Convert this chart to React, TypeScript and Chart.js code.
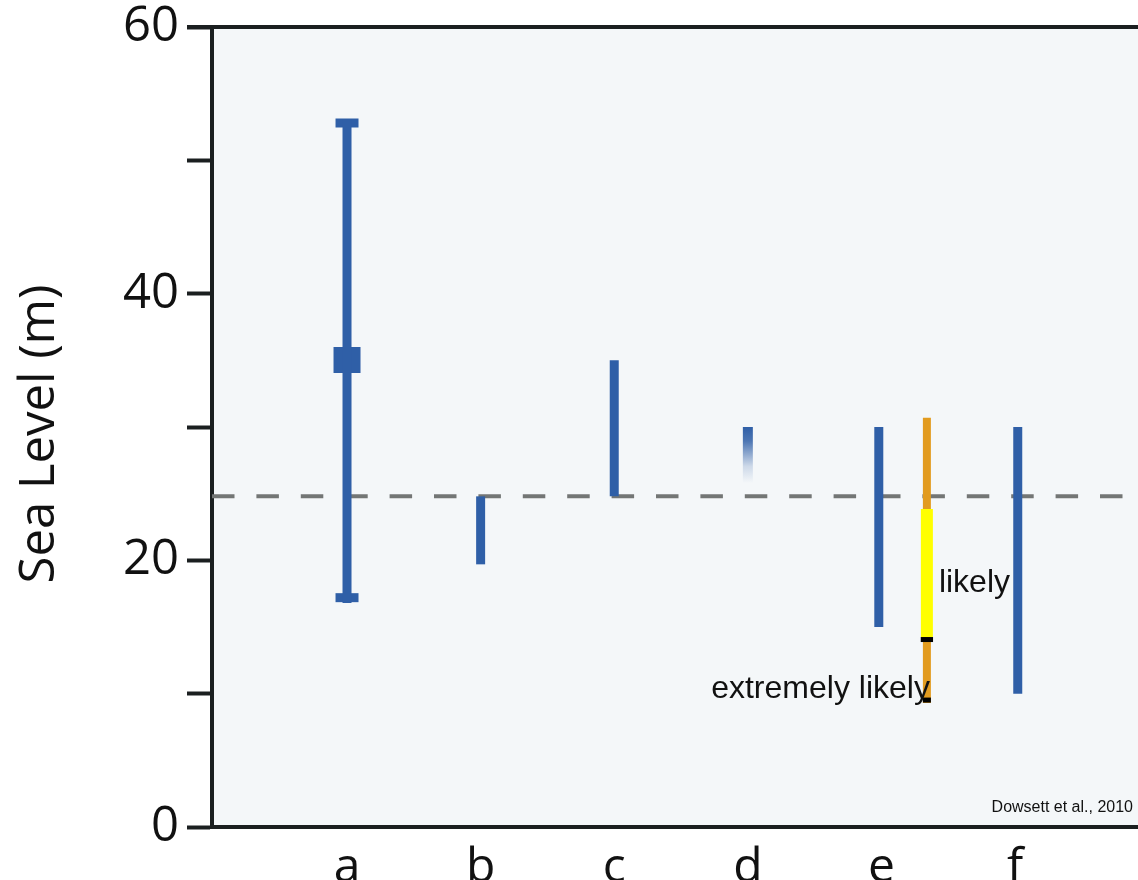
import React, { useEffect, useRef } from "react";
import { Chart, registerables } from "chart.js";

Chart.register(...registerables);

// ---- Data ----
const categories = ["a", "b", "c", "d", "e", "f"];
const categoryPositions = [1, 2, 3, 4, 5, 6];
const yTickValues = [0, 10, 20, 30, 40, 50, 60];
const yLabelValues = [0, 20, 40, 60];
const yAxisTitle = "Sea Level (m)";

// blue ranges (low, high) per study
const rangeNames = ["a", "b", "c", "e", "f"];
const rangeX = [1.0, 2.0, 3.0, 4.98, 6.02];
const rangeLow = [16.8, 19.7, 24.8, 15.0, 10.0];
const rangeHigh = [53.1, 24.8, 35.0, 30.0, 30.0];

// study a: whisker caps and central estimate box
const capValues = [17.2, 52.8];
const centralLow = 34.05;
const centralHigh = 36.0;

// study d: fading range
const fadeX = 4.0;
const fadeLow = 25.8;
const fadeHigh = 30.0;

// assessed range next to e
const assessX = 5.34;
const extremelyLikely = [9.3, 30.7];
const likely = [14.25, 23.85];
const markerValues = [14.06, 9.52];

const referenceLevel = 24.8;

const BLUE = "#2f5fa7";
const DARK = "#1b1f20";

export default function App() {
  const ref = useRef<HTMLCanvasElement | null>(null);

  useEffect(() => {
    document.body.style.margin = "0";
    const canvas = ref.current;
    if (!canvas) return;

    const vline = (x: number, lo: number, hi: number, color: any, width: number, order: number) => ({
      type: "line" as const,
      data: [
        { x, y: lo },
        { x, y: hi },
      ],
      borderColor: color,
      borderWidth: width,
      borderCapStyle: "butt",
      pointRadius: 0,
      order,
    });
    const hline = (x0: number, x1: number, y: number, color: string, width: number, order: number, dash?: number[]) => ({
      type: "line" as const,
      data: [
        { x: x0, y },
        { x: x1, y },
      ],
      borderColor: color,
      borderWidth: width,
      borderCapStyle: "butt",
      borderDash: dash || [],
      pointRadius: 0,
      order,
    });

    const fadeColor = (ctx: any) => {
      const chart = ctx.chart;
      const { chartArea, scales } = chart;
      if (!chartArea || !scales.y) return BLUE;
      const y0 = scales.y.getPixelForValue(fadeHigh);
      const y1 = scales.y.getPixelForValue(fadeLow);
      const g = chart.ctx.createLinearGradient(0, y0, 0, y1);
      g.addColorStop(0, "rgba(47,95,167,1)");
      g.addColorStop(0.25, "rgba(47,95,167,0.85)");
      g.addColorStop(0.7, "rgba(47,95,167,0.2)");
      g.addColorStop(1, "rgba(47,95,167,0)");
      return g;
    };

    const datasets: any[] = [];
    rangeNames.forEach((_, i) => {
      datasets.push(vline(rangeX[i], rangeLow[i], rangeHigh[i], BLUE, 9, 3));
    });
    capValues.forEach((v) => datasets.push(hline(rangeX[0] - 0.086, rangeX[0] + 0.086, v, BLUE, 9, 3)));
    datasets.push(vline(rangeX[0], centralLow, centralHigh, BLUE, 27, 3));
    datasets.push(vline(fadeX, fadeLow, fadeHigh, fadeColor, 10, 3));
    datasets.push(vline(assessX, extremelyLikely[0], extremelyLikely[1], "#e29b1f", 8, 5));
    datasets.push(vline(assessX, likely[0], likely[1], "#ffff00", 12, 4));
    datasets.push(hline(assessX - 0.046, assessX + 0.046, markerValues[0], "#000000", 5, 1));
    datasets.push(hline(assessX - 0.03, assessX + 0.03, markerValues[1], "#000000", 5, 1));
    datasets.push(hline(-0.0105, 6.92, referenceLevel, "#737675", 4, 10, [22.5, 21.9]));

    const bgPlugin = {
      id: "bg",
      beforeDraw(chart: any) {
        const { ctx, chartArea } = chart;
        ctx.save();
        ctx.fillStyle = "#f4f7f9";
        ctx.fillRect(chartArea.left, chartArea.top, chartArea.right - chartArea.left, chartArea.bottom - chartArea.top);
        ctx.restore();
      },
      afterDraw(chart: any) {
        const { ctx, chartArea } = chart;
        ctx.save();
        ctx.strokeStyle = DARK;
        ctx.lineWidth = 4;
        ctx.beginPath();
        ctx.moveTo(chartArea.left - 25, chartArea.top);
        ctx.lineTo(chartArea.right, chartArea.top);
        ctx.stroke();
        // y-axis title
        ctx.fillStyle = "#111111";
        ctx.font = "49px 'Open Sans'";
        ctx.textAlign = "center";
        ctx.textBaseline = "middle";
        ctx.translate(40, (chartArea.top + chartArea.bottom) / 2 + 7);
        ctx.rotate(-Math.PI / 2);
        ctx.fillText(yAxisTitle, 0, 0);
        ctx.restore();
      },
    };

    const textPlugin = {
      id: "texts",
      afterDatasetsDraw(chart: any) {
        const { ctx, scales, chartArea } = chart;
        const px = scales.x.getPixelForValue(assessX);
        ctx.save();
        ctx.fillStyle = "#111111";
        ctx.font = "32px 'Liberation Sans', Arial, sans-serif";
        ctx.textBaseline = "alphabetic";
        ctx.textAlign = "left";
        ctx.fillText("likely", px + 12, scales.y.getPixelForValue(17.63));
        ctx.textAlign = "right";
        ctx.fillText("extremely likely", px + 3, scales.y.getPixelForValue(9.67));
        ctx.font = "16px 'Liberation Sans', Arial, sans-serif";
        ctx.fillText("Dowsett et al., 2010", chartArea.right - 5, chartArea.bottom - 15);
        ctx.restore();
      },
    };

    const chart = new Chart(canvas, {
      type: "line",
      data: { datasets },
      options: {
        animation: false,
        responsive: false,
        devicePixelRatio: 1,
        layout: { padding: { top: 27, right: 0, left: 0, bottom: 0 } },
        plugins: {
          legend: { display: false },
          tooltip: { enabled: false },
        },
        scales: {
          x: {
            type: "linear",
            min: -0.0105,
            max: 6.92,
            afterBuildTicks: (scale: any) => {
              scale.ticks = categoryPositions.map((v) => ({ value: v }));
            },
            afterFit: (scale: any) => {
              scale.height = 53;
              scale.paddingLeft = 0;
              scale.paddingRight = 0;
            },
            grid: { display: false },
            border: { display: true, color: DARK, width: 4 },
            ticks: {
              autoSkip: false,
              maxRotation: 0,
              padding: 5,
              color: "#111111",
              font: { family: "'Open Sans'", size: 48 },
              callback: (v: any) => {
                const i = categoryPositions.indexOf(Number(v));
                return i >= 0 ? categories[i] : "";
              },
            },
          },
          y: {
            type: "linear",
            min: 0,
            max: 60,
            afterBuildTicks: (scale: any) => {
              scale.ticks = yTickValues.map((v) => ({ value: v }));
            },
            afterFit: (scale: any) => {
              scale.width = 212;
              scale.paddingTop = 0;
              scale.paddingBottom = 0;
            },
            grid: {
              drawOnChartArea: false,
              drawTicks: true,
              tickLength: 25,
              tickWidth: 4,
              tickColor: DARK,
            },
            border: { display: true, color: DARK, width: 4 },
            title: { display: false },
            ticks: {
              padding: 8,
              color: "#111111",
              font: { family: "'Open Sans'", size: 49 },
              callback: (v: any) => (yLabelValues.includes(Number(v)) ? String(v) : ""),
            },
          },
        },
      },
      plugins: [bgPlugin, textPlugin],
    } as any);

    return () => chart.destroy();
  }, []);

  return (
    <div style={{ position: "absolute", left: 0, top: 0, width: 1138, height: 880 }}>
      <canvas ref={ref} width={1138} height={880} style={{ display: "block" }} />
    </div>
  );
}
